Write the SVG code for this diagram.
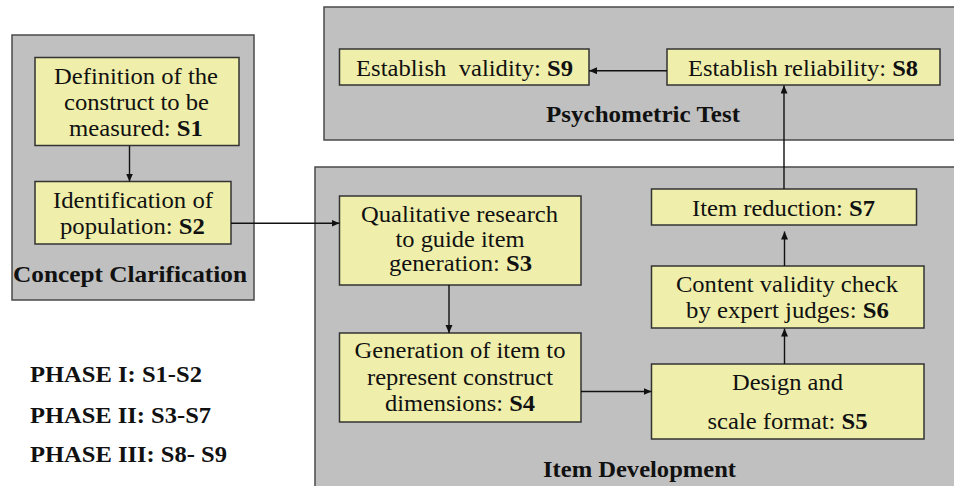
<svg xmlns="http://www.w3.org/2000/svg" width="954" height="486" viewBox="0 0 954 486">
<style>
.panel{fill:#c0c0c0;stroke:#4a4a4a;stroke-width:1.5}
.box{fill:#efefab;stroke:#333;stroke-width:1.5}
.b{font-weight:bold}
.conn{stroke:#111;stroke-width:1.4;fill:none;marker-end:url(#ah)}
</style>
<defs>
<marker id="ah" markerUnits="userSpaceOnUse" markerWidth="9" markerHeight="8" refX="8" refY="3.5" orient="auto">
<path d="M0,0 L8,3.5 L0,7 z" fill="#111"/>
</marker>
</defs>
<rect width="954" height="486" fill="#fff"/>
<g font-family="'Liberation Serif', 'Times New Roman', serif" font-size="22.5" fill="#111">

<g id="panel-concept">
<rect class="panel" x="12" y="35" width="242" height="265"/>
<text class="b" x="13" y="281.5" textLength="234" lengthAdjust="spacingAndGlyphs">Concept Clarification</text>
</g>
<g id="panel-psychometric">
<rect class="panel" x="324" y="7" width="640" height="133"/>
<text class="b" x="546" y="121.5" textLength="194" lengthAdjust="spacingAndGlyphs">Psychometric Test</text>
</g>
<g id="panel-item">
<rect class="panel" x="315" y="167" width="650" height="330"/>
<text class="b" x="543" y="477" textLength="193" lengthAdjust="spacingAndGlyphs">Item Development</text>
</g>

<g id="s1">
<rect class="box" x="35" y="57.5" width="204" height="88"/>
<text x="54" y="83.5" textLength="164" lengthAdjust="spacingAndGlyphs">Definition of the</text>
<text x="64" y="110" textLength="145" lengthAdjust="spacingAndGlyphs">construct to be</text>
<text x="69" y="136" textLength="134" lengthAdjust="spacingAndGlyphs">measured: <tspan class="b">S1</tspan></text>
</g>
<g id="s2">
<rect class="box" x="35" y="181.5" width="196" height="62.5"/>
<text x="53" y="208" textLength="160" lengthAdjust="spacingAndGlyphs">Identification of</text>
<text x="60" y="234" textLength="145" lengthAdjust="spacingAndGlyphs">population: <tspan class="b">S2</tspan></text>
</g>
<g id="s9">
<rect class="box" x="339.5" y="49" width="249.5" height="36"/>
<text x="356" y="76" textLength="217" lengthAdjust="spacingAndGlyphs" xml:space="preserve">Establish  validity: <tspan class="b">S9</tspan></text>
</g>
<g id="s8">
<rect class="box" x="667" y="49" width="273" height="36"/>
<text x="688" y="76" textLength="230" lengthAdjust="spacingAndGlyphs">Establish reliability: <tspan class="b">S8</tspan></text>
</g>
<g id="s3">
<rect class="box" x="339.5" y="196" width="241.5" height="89"/>
<text x="361" y="222" textLength="197" lengthAdjust="spacingAndGlyphs">Qualitative research</text>
<text x="395.5" y="246.5" textLength="129" lengthAdjust="spacingAndGlyphs">to guide item</text>
<text x="389" y="271" textLength="143" lengthAdjust="spacingAndGlyphs">generation: <tspan class="b">S3</tspan></text>
</g>
<g id="s4">
<rect class="box" x="339.5" y="333" width="241.5" height="89"/>
<text x="354.5" y="358" textLength="211" lengthAdjust="spacingAndGlyphs">Generation of item to</text>
<text x="367" y="384.5" textLength="186" lengthAdjust="spacingAndGlyphs">represent construct</text>
<text x="385" y="411" textLength="150" lengthAdjust="spacingAndGlyphs">dimensions: <tspan class="b">S4</tspan></text>
</g>
<g id="s7">
<rect class="box" x="651.5" y="189" width="265" height="36"/>
<text x="692" y="215.5" textLength="183" lengthAdjust="spacingAndGlyphs">Item reduction: <tspan class="b">S7</tspan></text>
</g>
<g id="s6">
<rect class="box" x="651.5" y="266" width="272.5" height="62"/>
<text x="676" y="292" textLength="222" lengthAdjust="spacingAndGlyphs">Content validity check</text>
<text x="686" y="318" textLength="203" lengthAdjust="spacingAndGlyphs">by expert judges: <tspan class="b">S6</tspan></text>
</g>
<g id="s5">
<rect class="box" x="651.5" y="364" width="272.5" height="75"/>
<text x="732" y="390" textLength="111" lengthAdjust="spacingAndGlyphs">Design and</text>
<text x="707.5" y="429" textLength="160" lengthAdjust="spacingAndGlyphs">scale format: <tspan class="b">S5</tspan></text>
</g>

<g id="phases">
<text class="b" x="30" y="382" textLength="172" lengthAdjust="spacingAndGlyphs">PHASE I: S1-S2</text>
<text class="b" x="30" y="423" textLength="181" lengthAdjust="spacingAndGlyphs">PHASE II: S3-S7</text>
<text class="b" x="30" y="462" textLength="197" lengthAdjust="spacingAndGlyphs">PHASE III: S8- S9</text>
</g>
</g>

<g id="connectors">
<path class="conn" d="M129.5,146 V181.5"/>
<path class="conn" d="M231,223.3 H339.5"/>
<path class="conn" d="M449,285 V333"/>
<path class="conn" d="M581,391.5 H651.5"/>
<path class="conn" d="M784.5,364 V328.5"/>
<path class="conn" d="M784.5,266 V231.5"/>
<path class="conn" d="M784,189 V85.5"/>
<path class="conn" d="M667,70.7 H589"/>
</g>
</svg>
